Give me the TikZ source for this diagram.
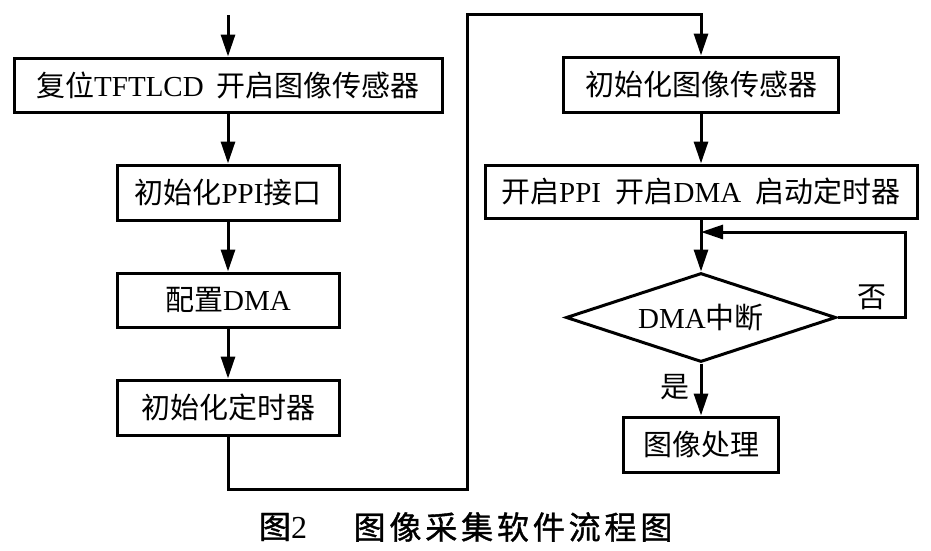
\documentclass[tikz,border=0pt]{standalone}
\usepackage{fontspec}
\setmainfont{Liberation Serif}
\newfontfamily\cjk{Noto Sans CJK SC}
\newfontfamily\cjkcap[LetterSpace=12,FakeBold=1.2]{Noto Sans CJK SC}
\newcommand\zh[1]{{\cjk #1}}
\usetikzlibrary{arrows.meta,shapes.geometric}
\begin{document}
\begin{tikzpicture}[x=1pt,y=-1pt,
  boxtxt/.style={font=\fontsize{29}{33}\selectfont},
  stepbox/.style={boxtxt,draw,line width=3pt,rectangle,inner sep=0pt},
  decision/.style={boxtxt,draw,line width=3pt,diamond,inner sep=0pt,aspect=3.03},
  conn/.style={line width=3pt},
  flow/.style={conn,-{Triangle[length=22pt,width=14pt]}}]
\useasboundingbox (0,0) rectangle (931,550);
% left column
\node[stepbox,minimum width=428pt,minimum height=54pt] (b1) at (228,85) {\zh{复位}TFTLCD\hspace{0.45em}\zh{开启图像传感器}};
\node[stepbox,minimum width=222pt,minimum height=55pt] (b2) at (228,192.5) {\zh{初始化}PPI\zh{接口}};
\node[stepbox,minimum width=222pt,minimum height=54pt] (b3) at (228,300) {\zh{配置}DMA};
\node[stepbox,minimum width=222pt,minimum height=55pt] (b4) at (228,407.5) {\zh{初始化定时器}};
% right column
\node[stepbox,minimum width=275pt,minimum height=55pt] (b5) at (701,84.5) {\zh{初始化图像传感器}};
\node[stepbox,minimum width=432pt,minimum height=53pt] (b6) at (701,191.5) {\zh{开启}PPI\hspace{0.5em}\zh{开启}DMA\hspace{0.5em}\zh{启动定时器}};
\node[decision,minimum width=270pt,minimum height=89pt] (d) at (701,317.5) {DMA\zh{中断}};
\node[stepbox,minimum width=155pt,minimum height=55pt] (b7) at (701,444.5) {\zh{图像处理}};
% labels
\node[boxtxt] (no) at (872,297) {\zh{否}};
\node[boxtxt] (yes) at (675,387) {\zh{是}};
% caption
\node[font=\fontsize{32}{36}\selectfont] (cap1) at (283,527) {{\cjkcap 图}2};
\node[font=\fontsize{32}{36}\selectfont] (cap2) at (513,527) {{\cjkcap 图像采集软件流程图}};
% coordinates
\coordinate (s) at (228,15);
\coordinate (p1) at (228,489);
\coordinate (p2) at (467,489);
\coordinate (p3) at (467,14);
\coordinate (p4) at (701,14);
\coordinate (r1) at (905,232);
\coordinate (j) at (701,232);
% connectors
\draw[flow] (s) -- (b1);
\draw[flow] (b1) -- (b2);
\draw[flow] (b2) -- (b3);
\draw[flow] (b3) -- (b4);
\draw[flow] (b4.south) -- (p1) -- (p2) -- (p3) -- (p4) -- (b5.north);
\draw[flow] (b5) -- (b6);
\draw[flow] (b6) -- (d);
\draw[flow] (d.east) -| (r1) -- (j);
\draw[flow] (d) -- (b7);
\end{tikzpicture}
\end{document}
